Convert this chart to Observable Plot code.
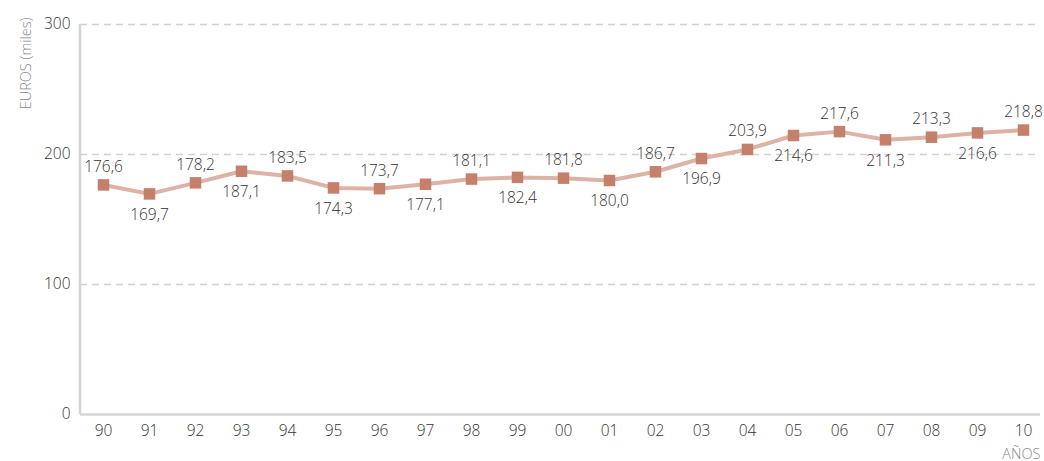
<!DOCTYPE html>
<html>
<head>
<meta charset="utf-8">
<script src="https://cdn.jsdelivr.net/npm/d3@7"></script>
<script src="https://cdn.jsdelivr.net/npm/@observablehq/plot@0.6"></script>
<style>
  html, body { margin: 0; padding: 0; background: #fff; }
  #chart { width: 1044px; height: 461px; }
</style>
</head>
<body>
<div id="chart"></div>
<script>
const years = ["90","91","92","93","94","95","96","97","98","99","00","01","02","03","04","05","06","07","08","09","10"];
const values = [176.6,169.7,178.2,187.1,183.5,174.3,173.7,177.1,181.1,182.4,181.8,180.0,186.7,196.9,203.9,214.6,217.6,211.3,213.3,216.6,218.8];
const labelAbove = [true,false,true,false,true,false,true,false,true,false,true,false,true,false,true,false,true,false,true,false,true];
const yTicks = [0,100,200,300];

const data = years.map((y, i) => ({year: y, value: values[i], above: labelAbove[i]}));
const fmt = v => v.toFixed(1).replace(".", ",");
const font = "'Open Sans', 'Noto Sans', sans-serif";

const leftAxisLine = (index, scales, values, dims) => {
  const l = document.createElementNS("http://www.w3.org/2000/svg", "line");
  l.setAttribute("x1", dims.marginLeft);
  l.setAttribute("x2", dims.marginLeft);
  l.setAttribute("y1", dims.marginTop);
  l.setAttribute("y2", dims.height - dims.marginBottom);
  l.setAttribute("stroke", "#d4d4d4");
  l.setAttribute("stroke-width", 2.5);
  return l;
};

const chart = Plot.plot({
  width: 1044,
  height: 461,
  marginLeft: 80,
  marginRight: 4,
  marginTop: 24,
  marginBottom: 47,
  style: {fontFamily: font, fontSize: "15px", color: "#404040", background: "#fff"},
  x: {type: "point", domain: years, padding: 0, insetLeft: 22, insetRight: 17, label: null},
  y: {domain: [0, 300], label: null},
  marks: [
    Plot.ruleY(yTicks.filter(d => d > 0), {stroke: "#d0d0d0", strokeWidth: 1.3, strokeDasharray: "7,5"}),
    Plot.ruleY([0], {stroke: "#d4d4d4", strokeWidth: 2.5}),
    leftAxisLine,
    Plot.axisY({ticks: yTicks, tickSize: 0, tickPadding: 10, label: null, fontSize: 15.5, fontWeight: 300, fill: "#333333"}),
    Plot.axisX({tickSize: 0, tickPadding: 10, label: null, fontSize: 15.5, fontWeight: 300, fill: "#333333"}),
    Plot.line(data, {x: "year", y: "value", stroke: "#dcb3a5", strokeWidth: 4}),
    Plot.dot(data, {x: "year", y: "value", symbol: "square", r: 6.5, fill: "#c4806b", stroke: "none"}),
    Plot.text(data.filter(d => d.above), {x: "year", y: "value", text: d => fmt(d.value), dy: -18, fontSize: 15.5, fontWeight: 300, fill: "#333333"}),
    Plot.text(data.filter(d => !d.above), {x: "year", y: "value", text: d => fmt(d.value), dy: 21, fontSize: 15.5, fontWeight: 300, fill: "#333333"}),
    Plot.text(["EUROS (miles)"], {frameAnchor: "top-left", dx: -60, dy: -7, rotate: -90, textAnchor: "end", fontSize: 14.5, fontWeight: 300, fill: "#888888"}),
    Plot.text(["AÑOS"], {frameAnchor: "bottom-right", textAnchor: "end", dy: 44, dx: 0, fontSize: 14.5, fontWeight: 300, fill: "#888888"})
  ]
});
document.getElementById("chart").appendChild(chart);
</script>
</body>
</html>
